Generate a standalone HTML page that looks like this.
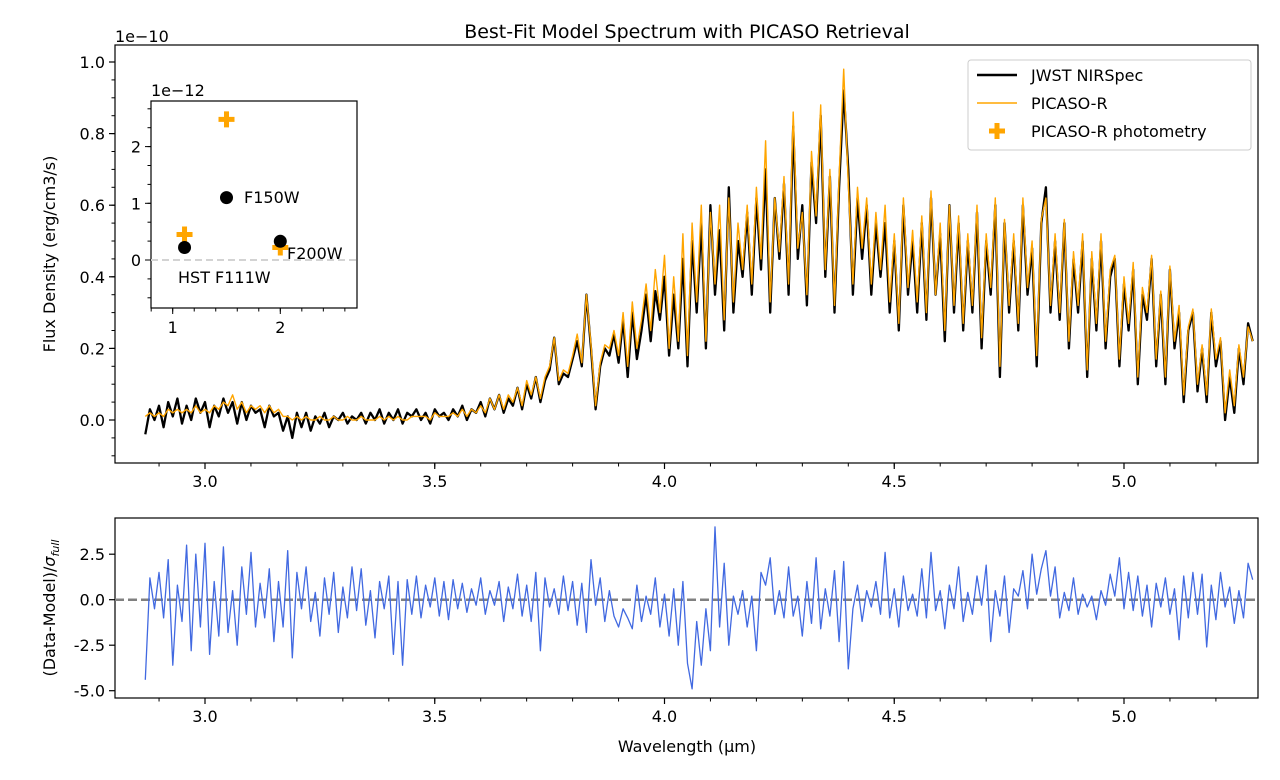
<!DOCTYPE html>
<html><head><meta charset="utf-8"><style>
body{margin:0;background:#fff}
svg{display:block;font-family:"DejaVu Sans","Liberation Sans",sans-serif}
</style></head><body>
<svg id="c" width="1280" height="780" viewBox="0 0 1280 780"></svg>
<script>
const wlStart = 2.87, wlStep = 0.01;
const dataFlux = [
-0.04,0.03,0.0,0.04,-0.02,0.05,0.01,0.06,-0.01,0.04,
0.0,0.06,0.02,0.05,-0.02,0.04,0.01,0.06,0.02,0.05,
-0.01,0.05,0.0,0.04,0.02,0.03,-0.02,0.04,0.01,0.02,
-0.03,0.01,-0.05,0.02,-0.02,0.02,-0.03,0.01,-0.01,0.02,
-0.02,0.01,0.0,0.02,-0.01,0.01,0.0,0.02,-0.01,0.02,
0.0,0.03,-0.01,0.02,0.0,0.03,-0.01,0.02,0.01,0.03,
0.0,0.02,-0.01,0.03,0.01,0.02,0.0,0.03,0.01,0.04,
0.0,0.03,0.02,0.05,0.01,0.06,0.03,0.07,0.02,0.06,
0.04,0.09,0.03,0.1,0.06,0.12,0.05,0.11,0.14,0.23,
0.1,0.13,0.12,0.17,0.22,0.15,0.35,0.2,0.03,0.15,
0.2,0.18,0.24,0.16,0.28,0.12,0.3,0.17,0.25,0.35,
0.22,0.36,0.28,0.4,0.18,0.35,0.2,0.45,0.15,0.5,
0.3,0.55,0.2,0.6,0.35,0.53,0.25,0.65,0.3,0.5,
0.4,0.58,0.35,0.62,0.42,0.7,0.3,0.62,0.45,0.66,
0.35,0.82,0.45,0.6,0.32,0.72,0.55,0.85,0.4,0.68,
0.3,0.65,0.92,0.7,0.35,0.62,0.45,0.6,0.35,0.55,
0.4,0.55,0.3,0.5,0.25,0.6,0.35,0.5,0.3,0.55,
0.28,0.62,0.35,0.52,0.22,0.6,0.3,0.55,0.25,0.5,
0.3,0.58,0.2,0.5,0.35,0.6,0.12,0.55,0.3,0.5,
0.25,0.6,0.35,0.48,0.15,0.55,0.65,0.3,0.5,0.28,
0.55,0.2,0.45,0.3,0.5,0.12,0.45,0.25,0.5,0.2,
0.4,0.45,0.15,0.38,0.25,0.42,0.1,0.35,0.28,0.45,
0.15,0.35,0.1,0.42,0.2,0.3,0.05,0.25,0.3,0.08,
0.2,0.05,0.3,0.15,0.22,0.0,0.12,0.02,0.2,0.1,
0.27,0.22];
const modelFlux = [
0.01,0.02,0.01,0.02,0.01,0.03,0.02,0.03,0.02,0.03,
0.02,0.04,0.02,0.03,0.02,0.04,0.03,0.05,0.04,0.07,
0.03,0.05,0.02,0.04,0.03,0.04,0.02,0.04,0.02,0.03,
0.01,0.01,0.0,0.01,0.0,0.01,0.0,0.0,0.01,0.0,
0.0,0.01,0.0,0.0,0.01,0.0,0.0,0.01,0.0,0.0,
0.0,0.01,0.0,0.01,0.0,0.01,0.0,0.0,0.01,0.01,
0.01,0.01,0.0,0.02,0.01,0.01,0.01,0.02,0.01,0.03,
0.01,0.03,0.02,0.04,0.02,0.06,0.03,0.07,0.03,0.07,
0.05,0.09,0.04,0.11,0.07,0.12,0.06,0.12,0.15,0.23,
0.11,0.14,0.13,0.18,0.24,0.16,0.35,0.21,0.04,0.16,
0.21,0.2,0.25,0.18,0.3,0.15,0.33,0.2,0.28,0.38,
0.25,0.42,0.3,0.46,0.2,0.4,0.22,0.52,0.18,0.55,
0.33,0.6,0.22,0.58,0.38,0.6,0.28,0.62,0.33,0.55,
0.42,0.6,0.38,0.65,0.45,0.78,0.33,0.62,0.47,0.68,
0.38,0.86,0.48,0.58,0.35,0.75,0.57,0.88,0.42,0.7,
0.32,0.68,0.98,0.66,0.38,0.65,0.48,0.62,0.38,0.58,
0.42,0.6,0.33,0.52,0.27,0.62,0.37,0.53,0.33,0.57,
0.3,0.64,0.35,0.55,0.25,0.6,0.32,0.57,0.27,0.52,
0.32,0.6,0.23,0.52,0.37,0.62,0.15,0.56,0.32,0.52,
0.27,0.62,0.37,0.5,0.18,0.56,0.62,0.32,0.52,0.3,
0.56,0.22,0.47,0.32,0.52,0.14,0.47,0.27,0.52,0.22,
0.42,0.46,0.17,0.4,0.27,0.44,0.12,0.37,0.3,0.46,
0.17,0.36,0.12,0.43,0.22,0.32,0.07,0.26,0.31,0.1,
0.21,0.07,0.31,0.17,0.23,0.02,0.14,0.04,0.21,0.12,
0.26,0.22];
const residuals = [
-4.4,1.2,-0.5,1.5,-1.0,2.2,-3.6,0.8,-1.2,3.0,
-2.8,2.5,-1.5,3.1,-3.0,1.0,-2.0,2.9,-1.8,0.5,
-2.5,1.8,-0.8,2.6,-1.5,0.9,-1.0,1.7,-2.3,1.0,
-1.5,2.7,-3.2,1.5,-0.5,1.8,-1.2,0.4,-2.0,1.2,
-0.8,1.5,-1.8,0.7,-1.0,1.8,-0.6,1.7,-1.4,0.5,
-2.1,1.0,-0.5,1.3,-3.0,1.0,-3.6,1.1,-0.8,1.3,
-1.0,0.8,-0.4,1.2,-0.9,1.0,-1.1,1.1,-0.5,0.9,
-0.7,0.6,-0.3,1.2,-0.8,0.5,-0.3,1.0,-1.2,0.7,
-0.5,1.4,-0.9,0.8,-1.2,1.5,-2.8,1.2,-0.4,0.6,
-0.8,1.3,-0.6,1.0,-1.4,0.9,-1.8,2.2,-0.3,1.2,
-1.2,0.5,-0.9,-1.5,-0.5,-1.0,-1.6,0.8,-1.2,0.2,
-0.8,1.2,-1.5,0.3,-2.0,0.6,-2.5,1.0,-3.5,-4.9,
-1.2,-3.6,-0.5,-2.8,4.0,-1.5,2.0,-2.5,0.2,-0.8,
0.5,-1.5,0.2,-2.8,1.5,0.8,2.3,-0.8,0.5,-1.0,
1.8,-0.9,0.2,-2.0,1.0,-1.3,2.3,-1.6,0.6,-0.9,
1.6,-2.3,2.1,-3.8,-0.5,0.8,-1.2,0.5,-0.4,1.0,
-0.8,2.6,-1.0,0.6,-1.5,1.3,-0.6,0.3,-0.9,1.7,
-1.0,2.6,-0.6,0.5,-1.6,0.8,-0.5,1.8,-1.2,0.4,
-0.8,1.3,-0.3,1.9,-2.3,0.5,-0.9,1.3,-1.8,0.6,
0.2,1.6,-0.5,2.5,0.3,1.7,2.7,0.2,1.8,-1.0,
0.4,-0.6,1.2,-0.8,0.3,-0.4,0.2,-1.1,0.5,-0.3,
1.4,0.2,2.3,-0.5,1.5,-0.6,1.3,-0.9,0.8,-1.5,
0.9,-0.4,1.2,-0.8,0.6,-2.2,1.3,-1.0,1.5,-0.8,
1.4,-2.6,0.8,-1.1,1.5,-0.4,0.7,-1.3,0.5,-1.0,
2.0,1.1];
const xTicks = [3.0,3.5,4.0,4.5,5.0];
const yTicksTop = [0.0,0.2,0.4,0.6,0.8,1.0];
const yTicksBot = [2.5,0.0,-2.5,-5.0];
const photWl = [1.11,1.5,2.0];
const photData = [0.22,1.1,0.33];
const photModel = [0.45,2.48,0.22];
const photLabels = ["HST F111W","F150W","F200W"];
const insetXTicks = [1,2];
const insetYTicks = [0,1,2];

const svg=document.getElementById('c');
const NS='http://www.w3.org/2000/svg';
function mk(tag,attrs,parent,text){const e=document.createElementNS(NS,tag);for(const k in attrs)e.setAttribute(k,attrs[k]);if(text!==undefined)e.textContent=text;(parent||svg).appendChild(e);return e;}

const L=115,R=1258;
const xs=v=>205+(v-3.0)*459.5;
const yTop=v=>420-v*358;
const yBot=v=>599.7-v*18.2;
const FS=16;

let t=mk('text',{x:687,y:38,'text-anchor':'middle','font-size':19});t.textContent='Best-Fit Model Spectrum with PICASO Retrieval';


function axisFrame(top,bottom,name){
  const r=mk('rect',{x:L,y:top,width:R-L,height:bottom-top,fill:'none',stroke:'#000','stroke-width':1.2});
  
  const g=mk('g',{});
  for(let v=2.9;v<=5.25;v+=0.1){mk('line',{x1:xs(v),x2:xs(v),y1:bottom,y2:bottom+3.5,stroke:'#000'},g);}
  xTicks.forEach(v=>{mk('line',{x1:xs(v),x2:xs(v),y1:bottom,y2:bottom+6,stroke:'#000','stroke-width':1.2},g);
    mk('text',{x:xs(v),y:bottom+24,'text-anchor':'middle','font-size':FS},g,v.toFixed(1));});
}
axisFrame(45,463,'main-axes');
axisFrame(518,698,'residual-axes');

const gy=mk('g',{});
for(let v=-0.1;v<=1.1;v+=0.05){const y=yTop(v);if(y<45||y>463)continue;mk('line',{x1:L-3.5,x2:L,y1:y,y2:y,stroke:'#000'},gy);}
yTicksTop.forEach(v=>{mk('line',{x1:L-6,x2:L,y1:yTop(v),y2:yTop(v),stroke:'#000','stroke-width':1.2},gy);
  mk('text',{x:L-10,y:yTop(v)+6,'text-anchor':'end','font-size':FS},gy,v.toFixed(1));});
t=mk('text',{x:115,y:42,'font-size':FS},svg,'1e\u221210');
t=mk('text',{x:0,y:0,'font-size':FS,'text-anchor':'middle',transform:'translate(55,254) rotate(-90)'},svg,'Flux Density (erg/cm3/s)');


const gb=mk('g',{});
yTicksBot.forEach(v=>{mk('line',{x1:L-6,x2:L,y1:yBot(v),y2:yBot(v),stroke:'#000','stroke-width':1.2},gb);
  mk('text',{x:L-10,y:yBot(v)+6,'text-anchor':'end','font-size':FS},gb,v.toFixed(1));});
t=mk('text',{x:0,y:0,'font-size':FS,'text-anchor':'middle',transform:'translate(55,608) rotate(-90)'},svg);

mk('tspan',{},t,'(Data-Model)/');mk('tspan',{'font-style':'italic'},t,'σ');mk('tspan',{'font-style':'italic','font-size':11,dy:4},t,'full');
t=mk('text',{x:687,y:752,'font-size':FS,'text-anchor':'middle'},svg,'Wavelength (µm)');


function pathFrom(arr,yf){return arr.map((v,i)=>(i?'L':'M')+xs(wlStart+i*wlStep).toFixed(1)+','+yf(v).toFixed(1)).join('');}
let p=mk('path',{d:pathFrom(dataFlux,yTop),fill:'none',stroke:'#000','stroke-width':2.3,'stroke-linejoin':'round'});

p=mk('path',{d:pathFrom(modelFlux,yTop),fill:'none',stroke:'#ffa500','stroke-width':1.4,'stroke-linejoin':'round'});


p=mk('line',{x1:L,x2:R,y1:yBot(0),y2:yBot(0),stroke:'#808080','stroke-width':2.5,'stroke-dasharray':'9,4'});

p=mk('path',{d:pathFrom(residuals,yBot),fill:'none',stroke:'#4169e1','stroke-width':1.3,'stroke-linejoin':'round'});


const lg=mk('g',{});
mk('rect',{x:968,y:60,width:283,height:90,rx:3,fill:'#fff',stroke:'#ccc'},lg);
mk('line',{x1:977,x2:1017,y1:75,y2:75,stroke:'#000','stroke-width':2.6},lg);
mk('text',{x:1031,y:81,'font-size':FS},lg,'JWST NIRSpec');
mk('line',{x1:977,x2:1017,y1:103,y2:103,stroke:'#ffa500','stroke-width':1.4},lg);
mk('text',{x:1031,y:109,'font-size':FS},lg,'PICASO-R');
mk('path',{d:'M997,123V139M989,131H1005',stroke:'#ffa500','stroke-width':5},lg);
mk('text',{x:1031,y:137,'font-size':FS},lg,'PICASO-R photometry');

const IL=151,IR=357,IT=101,IB=308;
const ix=v=>172.7+(v-1)*107.6;
const iy=v=>260-v*56.7;
const ig=mk('g',{});
mk('rect',{x:IL,y:IT,width:IR-IL,height:IB-IT,fill:'#fff',stroke:'#000','stroke-width':1.2},ig);
mk('line',{x1:IL,x2:IR,y1:iy(0),y2:iy(0),stroke:'#d3d3d3','stroke-width':2,'stroke-dasharray':'7,4'},ig);
for(let v=0.8;v<=2.7;v+=0.2)mk('line',{x1:ix(v),x2:ix(v),y1:IB,y2:IB+3.5,stroke:'#000'},ig);
insetXTicks.forEach(v=>{mk('line',{x1:ix(v),x2:ix(v),y1:IB,y2:IB+6,stroke:'#000'},ig);mk('text',{x:ix(v),y:IB+25,'text-anchor':'middle','font-size':FS},ig,String(v));});
for(let v=-2/3;v<=2.7;v+=1/3)mk('line',{x1:IL-3.5,x2:IL,y1:iy(v),y2:iy(v),stroke:'#000'},ig);
insetYTicks.forEach(v=>{mk('line',{x1:IL-6,x2:IL,y1:iy(v),y2:iy(v),stroke:'#000'},ig);mk('text',{x:IL-10,y:iy(v)+6,'text-anchor':'end','font-size':FS},ig,String(v));});
mk('text',{x:151,y:96,'font-size':FS},ig,'1e\u221212');
photModel.forEach((v,i)=>{const e=mk('path',{d:`M${ix(photWl[i])},${iy(v)-8}v16M${ix(photWl[i])-8},${iy(v)}h16`,stroke:'#ffa500','stroke-width':5},ig);
  });
photData.forEach((v,i)=>{const e=mk('circle',{cx:ix(photWl[i]),cy:iy(v),r:6.5,fill:'#000'},ig);
  });
mk('text',{x:178,y:283,'font-size':FS},ig,photLabels[0]);
mk('text',{x:244,y:203,'font-size':FS},ig,photLabels[1]);
mk('text',{x:287,y:259,'font-size':FS},ig,photLabels[2]);
</script>
</body></html>
